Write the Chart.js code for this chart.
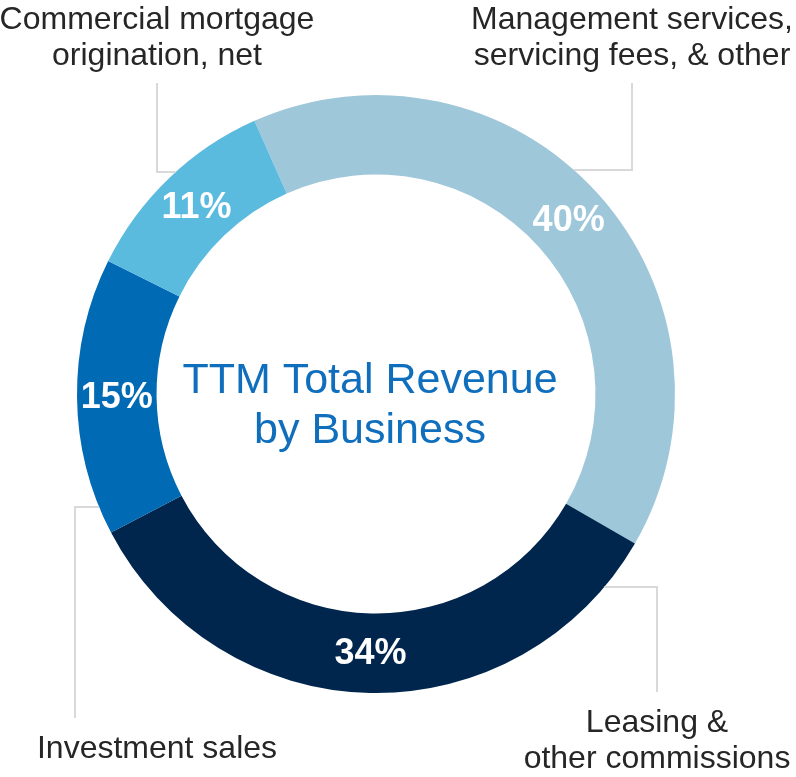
<!DOCTYPE html>
<html>
<head>
<meta charset="utf-8">
<script src="https://cdn.jsdelivr.net/npm/chart.js@4.4.0/dist/chart.umd.min.js"></script>
<style>
  html, body { margin: 0; padding: 0; background: #fff; }
  #wrap { width: 796px; height: 777px; }
</style>
</head>
<body>
<div id="wrap"><canvas id="myChart" width="796" height="777"></canvas></div>
<script>
// data
var categories = ['Management services, servicing fees, & other', 'Leasing & other commissions', 'Investment sales', 'Commercial mortgage origination, net'];
var shares = [40, 34, 15, 11];
var colors = ['#9FC7DA', '#00264D', '#006AB4', '#5ABBDF'];
var centerTitle = ['TTM Total Revenue', 'by Business'];

// outer labels: text lines, leader x / elbow y / line end, text centre + baseline (relative to donut center)
var outerLabels = [
    { lines: ['Management services,', 'servicing fees, & other'], lx: 256, elbow: -224, end: -311, side: -1, tx: 256, base: -365 },
    { lines: ['Leasing &', 'other commissions'], lx: 281, elbow: 193, end: 298, side: -1, tx: 281, base: 338 },
    { lines: ['Investment sales'], lx: -301, elbow: 113, end: 324, side: 1, tx: -219, base: 364 },
    { lines: ['Commercial mortgage', 'origination, net'], lx: -219, elbow: -222, end: -311, side: 1, tx: -219, base: -365 }
];

var FONT = '"Liberation Sans", Arial, sans-serif';

var labelsPlugin = {
    id: 'labels',
    afterDatasetsDraw: function(chart) {
        var ctx = chart.ctx;
        var meta = chart.getDatasetMeta(0);
        var arc0 = meta.data[0];
        var cx = arc0.x, cy = arc0.y, R = arc0.outerRadius;

        ctx.save();
        // values inside the ring
        ctx.fillStyle = '#fff';
        ctx.font = 'bold 36px ' + FONT;
        ctx.textAlign = 'center';
        ctx.textBaseline = 'middle';
        meta.data.forEach(function(arc, i) {
            var p = arc.getCenterPoint();
            ctx.fillText(shares[i] + '%', p.x, p.y + 1);
        });

        // centre title
        ctx.fillStyle = '#0F6FBD';
        ctx.font = '43px ' + FONT;
        ctx.textBaseline = 'alphabetic';
        ctx.fillText(centerTitle[0], cx - 6, cy - 1);
        ctx.fillText(centerTitle[1], cx - 6, cy + 49);

        // leader lines + category names
        outerLabels.forEach(function(l) {
            var ex = cx + l.lx, ey = cy + l.elbow;
            var dy = l.elbow;
            var rx = cx - l.side * Math.sqrt(Math.max(R * R - dy * dy, 0));
            ctx.strokeStyle = '#D9D9D9';
            ctx.lineWidth = 2;
            ctx.beginPath();
            ctx.moveTo(ex, cy + l.end);
            ctx.lineTo(ex, ey);
            ctx.lineTo(rx, ey);
            ctx.stroke();

            ctx.fillStyle = '#262626';
            ctx.font = '32px ' + FONT;
            ctx.textAlign = 'center';
            l.lines.forEach(function(t, k) {
                ctx.fillText(t, cx + l.tx, cy + l.base + k * 36);
            });
        });
        ctx.restore();
    }
};

var ctx = document.getElementById('myChart').getContext('2d');
var chart = new Chart(ctx, {
    type: 'doughnut',
    data: {
        labels: categories,
        datasets: [{
            data: shares,
            backgroundColor: colors,
            borderWidth: 0,
            hoverOffset: 0
        }]
    },
    options: {
        responsive: false,
        animation: false,
        rotation: -24,
        cutout: '73.4%',
        layout: { padding: { left: 77, right: 121, top: 95, bottom: 84 } },
        plugins: {
            legend: { display: false },
            tooltip: { enabled: false }
        }
    },
    plugins: [labelsPlugin]
});
</script>
</body>
</html>
